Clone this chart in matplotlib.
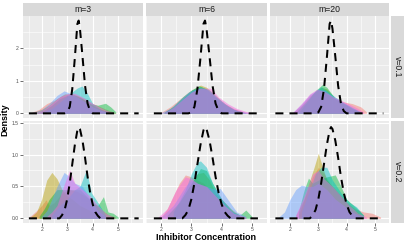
import matplotlib
matplotlib.use("Agg")
import matplotlib.pyplot as plt
import numpy as np

plt.rcParams["font.family"] = ["Liberation Sans", "DejaVu Sans"]

COLS = ["m=3", "m=6", "m=20"]
ROWS = ["v=0.1", "v=0.2"]
GROUP_COLORS = ["#F8766D", "#B79F00", "#00BA38", "#00BFC4", "#619CFF", "#F564E3"]

# x limits of each column (free x scales)
XLIMS = [(1.27, 5.97), (1.57, 5.47), (1.29, 5.49)]
# y limits of each row (free y scales)
YLIMS = [(-0.143, 2.99), (-0.073, 1.525)]
YTICKS = [[0, 1, 2], [0.0, 0.5, 1.0, 1.5]]
YTICKLABELS = [["0", "1", "2"], ["0.0", "0.5", "1.0", "1.5"]]
YMINOR = [[0.5, 1.5, 2.5], [0.25, 0.75, 1.25]]
XTICKS = [2, 3, 4, 5]

# dashed reference density
DASH_X_TOP = [2.9, 3.0, 3.1, 3.2, 3.3, 3.4, 3.45, 3.5, 3.6, 3.7, 3.8, 3.9, 4.0]
DASH_Y_TOP = [0.0, 0.03, 0.2, 0.75, 1.7, 2.75, 2.85, 2.6, 1.75, 0.85, 0.3, 0.07, 0.0]
DASH_X_BOT = [2.7, 2.8, 2.9, 3.0, 3.1, 3.2, 3.3, 3.4, 3.45, 3.5, 3.6, 3.7, 3.8,
              3.9, 4.0, 4.1, 4.2, 4.3]
DASH_Y_BOT = [0.0, 0.05, 0.13, 0.3, 0.55, 0.85, 1.15, 1.38, 1.43, 1.4, 1.22,
              0.95, 0.65, 0.4, 0.22, 0.1, 0.04, 0.0]
DASH_START = [1.5, 1.76, 1.48]
DASH_END = [5.8, 5.2, 5.3]

# simulated densities per panel: color index -> (x, y) points
V01_M3 = {
    0: ([1.6, 1.9, 2.2, 2.5, 2.8, 3.1, 3.4, 3.7, 4.0, 4.3, 4.6, 4.9],
        [0.03, 0.12, 0.3, 0.4, 0.55, 0.6, 0.55, 0.45, 0.3, 0.2, 0.1, 0.02]),
    1: ([1.7, 2.0, 2.3, 2.6, 2.9, 3.2, 3.5, 3.8, 4.1, 4.4, 4.7],
        [0.03, 0.12, 0.25, 0.45, 0.6, 0.6, 0.5, 0.35, 0.2, 0.1, 0.03]),
    2: ([1.8, 2.1, 2.4, 2.7, 3.0, 3.3, 3.6, 3.9, 4.2, 4.5, 4.7, 4.9],
        [0.02, 0.1, 0.25, 0.45, 0.55, 0.55, 0.45, 0.3, 0.25, 0.31, 0.2, 0.05]),
    3: ([2.0, 2.4, 2.8, 3.1, 3.4, 3.58, 3.8, 4.0, 4.3, 4.6],
        [0.02, 0.15, 0.4, 0.6, 0.78, 0.84, 0.6, 0.3, 0.12, 0.04]),
    4: ([1.6, 2.0, 2.3, 2.6, 2.88, 3.1, 3.4, 3.7, 4.0, 4.3, 4.6],
        [0.02, 0.12, 0.3, 0.55, 0.69, 0.62, 0.5, 0.35, 0.2, 0.1, 0.03]),
    5: ([1.8, 2.1, 2.4, 2.7, 3.0, 3.3, 3.6, 3.9, 4.2, 4.5, 4.8],
        [0.02, 0.12, 0.3, 0.5, 0.6, 0.62, 0.5, 0.35, 0.22, 0.1, 0.02]),
}
V01_M6 = {
    0: ([2.0, 2.3, 2.6, 2.9, 3.2, 3.5, 3.8, 4.1, 4.4, 4.7, 5.0],
        [0.03, 0.2, 0.42, 0.65, 0.8, 0.75, 0.5, 0.3, 0.15, 0.05, 0.01]),
    1: ([2.1, 2.4, 2.7, 3.0, 3.3, 3.5, 3.8, 4.1, 4.4, 4.7],
        [0.03, 0.2, 0.45, 0.7, 0.87, 0.8, 0.55, 0.3, 0.12, 0.04]),
    2: ([2.1, 2.4, 2.7, 3.0, 3.25, 3.5, 3.8, 4.1, 4.4, 4.7],
        [0.03, 0.22, 0.5, 0.72, 0.85, 0.75, 0.5, 0.28, 0.12, 0.04]),
    3: ([2.1, 2.4, 2.7, 3.0, 3.3, 3.6, 3.9, 4.2, 4.5, 4.8],
        [0.02, 0.18, 0.45, 0.7, 0.82, 0.72, 0.45, 0.22, 0.08, 0.02]),
    4: ([2.0, 2.3, 2.6, 2.9, 3.2, 3.5, 3.8, 4.1, 4.4, 4.7, 5.0],
        [0.02, 0.15, 0.4, 0.65, 0.78, 0.75, 0.52, 0.3, 0.13, 0.05, 0.01]),
    5: ([2.1, 2.4, 2.7, 3.0, 3.3, 3.65, 3.9, 4.2, 4.5, 4.8, 5.05],
        [0.02, 0.18, 0.42, 0.65, 0.78, 0.77, 0.5, 0.3, 0.15, 0.06, 0.01]),
}
V01_M20 = {
    0: ([2.1, 2.4, 2.7, 3.0, 3.3, 3.6, 3.9, 4.2, 4.5, 4.7],
        [0.02, 0.25, 0.55, 0.72, 0.6, 0.45, 0.35, 0.3, 0.2, 0.05]),
    1: ([2.2, 2.5, 2.8, 3.1, 3.3, 3.6, 3.9, 4.2, 4.5],
        [0.02, 0.3, 0.6, 0.8, 0.75, 0.45, 0.3, 0.15, 0.04]),
    2: ([2.3, 2.6, 2.9, 3.15, 3.3, 3.6, 3.9, 4.2, 4.5],
        [0.03, 0.35, 0.7, 0.89, 0.8, 0.45, 0.3, 0.15, 0.03]),
    3: ([2.2, 2.5, 2.8, 3.1, 3.3, 3.6, 3.9, 4.2, 4.5],
        [0.03, 0.3, 0.6, 0.82, 0.7, 0.5, 0.32, 0.18, 0.05]),
    4: ([2.1, 2.4, 2.7, 3.0, 3.25, 3.55, 3.85, 4.15, 4.45],
        [0.03, 0.28, 0.58, 0.75, 0.7, 0.5, 0.35, 0.2, 0.06]),
    5: ([2.1, 2.4, 2.7, 2.95, 3.2, 3.5, 3.8, 4.1, 4.4, 4.6],
        [0.03, 0.3, 0.6, 0.74, 0.68, 0.52, 0.4, 0.28, 0.15, 0.04]),
}
V02_M3 = {
    0: ([1.5, 1.6, 1.8, 2.0, 2.17, 2.3, 2.5, 2.8, 3.1, 3.4, 3.7, 4.0, 4.3, 4.6, 4.9],
        [0.02, 0.05, 0.12, 0.2, 0.29, 0.2, 0.25, 0.4, 0.45, 0.42, 0.35, 0.25, 0.15, 0.06, 0.02]),
    1: ([1.6, 1.8, 2.0, 2.2, 2.4, 2.6, 2.8, 3.0, 3.2, 3.5, 4.0, 4.5],
        [0.03, 0.1, 0.3, 0.6, 0.72, 0.62, 0.45, 0.35, 0.3, 0.2, 0.1, 0.03]),
    2: ([1.9, 2.1, 2.3, 2.6, 3.0, 3.5, 4.0, 4.2, 4.42, 4.6, 4.8, 5.0],
        [0.03, 0.15, 0.3, 0.45, 0.45, 0.45, 0.25, 0.2, 0.34, 0.1, 0.08, 0.02]),
    3: ([2.4, 2.7, 3.0, 3.3, 3.5, 3.75, 3.95, 4.2, 4.5],
        [0.05, 0.2, 0.3, 0.45, 0.5, 0.76, 0.4, 0.25, 0.05]),
    4: ([2.0, 2.2, 2.4, 2.6, 2.88, 3.1, 3.3, 3.6, 3.9, 4.2, 4.5],
        [0.03, 0.12, 0.3, 0.5, 0.72, 0.65, 0.55, 0.5, 0.3, 0.12, 0.03]),
    5: ([2.2, 2.4, 2.6, 2.9, 3.1, 3.3, 3.6, 3.9, 4.2, 4.5, 4.8],
        [0.03, 0.1, 0.2, 0.55, 0.76, 0.55, 0.45, 0.35, 0.2, 0.08, 0.02]),
}
V02_M6 = {
    0: ([2.0, 2.2, 2.4, 2.6, 2.8, 3.0, 3.2, 3.4, 3.6, 3.8, 4.0, 4.2, 4.4, 4.6, 4.8],
        [0.02, 0.15, 0.35, 0.55, 0.68, 0.65, 0.6, 0.55, 0.45, 0.35, 0.25, 0.15, 0.08, 0.03, 0.02]),
    1: ([2.4, 2.8, 3.0, 3.2, 3.4, 3.6, 3.8, 4.0, 4.3, 4.6],
        [0.1, 0.4, 0.55, 0.7, 0.72, 0.6, 0.4, 0.3, 0.15, 0.05]),
    2: ([2.2, 2.6, 3.0, 3.3, 3.5, 3.7, 4.0, 4.4, 4.6, 4.8, 5.0],
        [0.05, 0.25, 0.55, 0.78, 0.75, 0.55, 0.3, 0.1, 0.05, 0.13, 0.03]),
    3: ([2.4, 2.8, 3.0, 3.2, 3.3, 3.5, 3.7, 4.0, 4.3, 4.6],
        [0.1, 0.45, 0.7, 0.88, 0.9, 0.8, 0.55, 0.3, 0.12, 0.05]),
    4: ([2.0, 2.4, 2.8, 3.0, 3.2, 3.5, 3.8, 3.95, 4.2, 4.5, 4.8],
        [0.02, 0.2, 0.5, 0.6, 0.55, 0.5, 0.45, 0.47, 0.3, 0.1, 0.03]),
    5: ([1.9, 2.2, 2.5, 2.8, 3.0, 3.2, 3.5, 3.8, 4.1, 4.4, 4.8],
        [0.02, 0.15, 0.45, 0.65, 0.62, 0.55, 0.5, 0.35, 0.2, 0.08, 0.02]),
}
V02_M20 = {
    0: ([2.2, 2.5, 2.8, 3.0, 3.2, 3.4, 3.7, 4.0, 4.3, 4.6, 4.9, 5.2],
        [0.05, 0.3, 0.65, 0.8, 0.7, 0.55, 0.4, 0.25, 0.15, 0.1, 0.08, 0.02]),
    1: ([2.3, 2.5, 2.7, 2.85, 3.0, 3.15, 3.3, 3.6, 3.9, 4.2, 4.5],
        [0.05, 0.3, 0.6, 0.8, 1.02, 0.8, 0.6, 0.45, 0.3, 0.15, 0.05]),
    2: ([2.3, 2.5, 2.65, 2.8, 3.0, 3.3, 3.6, 3.8, 4.0, 4.35, 4.6],
        [0.1, 0.45, 0.63, 0.55, 0.6, 0.65, 0.68, 0.5, 0.3, 0.16, 0.05]),
    3: ([2.4, 2.7, 2.9, 3.1, 3.3, 3.5, 3.8, 4.1, 4.35, 4.6],
        [0.1, 0.45, 0.7, 0.8, 0.8, 0.6, 0.4, 0.25, 0.18, 0.05]),
    4: ([1.6, 1.8, 2.0, 2.2, 2.4, 2.6, 2.8, 3.0, 3.3, 3.6, 3.9, 4.2, 4.5],
        [0.02, 0.1, 0.3, 0.45, 0.52, 0.5, 0.5, 0.55, 0.45, 0.3, 0.2, 0.1, 0.03]),
    5: ([2.2, 2.5, 2.8, 3.0, 3.2, 3.5, 3.8, 4.1, 4.4, 4.7],
        [0.05, 0.35, 0.7, 0.75, 0.62, 0.5, 0.35, 0.2, 0.08, 0.02]),
}
PANELS = [[V01_M3, V01_M6, V01_M20], [V02_M3, V02_M6, V02_M20]]

W, H = 407, 244
fig = plt.figure(figsize=(W / 100, H / 100), dpi=100)

# panel boxes in pixels (left, right) and (top, bottom)
COL_PX = [(23, 143), (146, 267), (270, 389)]
ROW_PX = [(16, 118), (121, 223)]


def px_axes(l, r, t, b):
    return fig.add_axes([l / W, 1 - b / H, (r - l) / W, (b - t) / H])


for i in range(2):
    for j in range(3):
        l, r = COL_PX[j]
        t, b = ROW_PX[i]
        ax = px_axes(l, r, t, b)
        ax.set_facecolor("#EBEBEB")
        for s in ax.spines.values():
            s.set_visible(False)
        ax.set_xlim(*XLIMS[j])
        ax.set_ylim(*YLIMS[i])
        ax.set_xticks(XTICKS)
        ax.set_xticks([1.5, 2.5, 3.5, 4.5, 5.5], minor=True)
        ax.set_yticks(YTICKS[i])
        ax.set_yticks(YMINOR[i], minor=True)
        ax.grid(True, which="major", color="white", lw=0.8)
        ax.grid(True, which="minor", color="white", lw=0.4)
        ax.set_axisbelow(True)
        ax.tick_params(which="minor", length=0)
        ax.tick_params(which="major", length=2, width=0.5, color="#333333",
                       labelsize=3.6, labelcolor="#4D4D4D", pad=1)
        if i == 1:
            ax.set_xticklabels([str(v) for v in XTICKS])
        else:
            ax.tick_params(axis="x", length=0, labelbottom=False)
        if j == 0:
            ax.set_yticklabels(YTICKLABELS[i])
        else:
            ax.tick_params(axis="y", length=0, labelleft=False)

        for k, (xs, ys) in PANELS[i][j].items():
            ax.fill_between(xs, 0, ys, color=GROUP_COLORS[k], alpha=0.45, lw=0)

        dx = DASH_X_TOP if i == 0 else DASH_X_BOT
        dy = DASH_Y_TOP if i == 0 else DASH_Y_BOT
        ax.plot([DASH_START[j]] + dx + [DASH_END[j]], [0] + dy + [0],
                color="black", lw=1.45, dashes=(4, 3), zorder=5)

# top strips
for j in range(3):
    l, r = COL_PX[j]
    sax = px_axes(l, r, 3, 16)
    sax.set_facecolor("#D9D9D9")
    sax.set_xticks([]); sax.set_yticks([])
    for s in sax.spines.values():
        s.set_visible(False)
    sax.text(0.5, 0.5, COLS[j], ha="center", va="center", fontsize=6.2,
             color="#1A1A1A", transform=sax.transAxes)

# right strips
for i in range(2):
    t, b = ROW_PX[i]
    sax = px_axes(391, 404, t, b)
    sax.set_facecolor("#D9D9D9")
    sax.set_xticks([]); sax.set_yticks([])
    for s in sax.spines.values():
        s.set_visible(False)
    sax.text(0.5, 0.5, ROWS[i], ha="center", va="center", fontsize=6.2,
             color="#1A1A1A", rotation=-90, transform=sax.transAxes)

fig.text(206 / W, 1 - 237 / H, "Inhibitor Concentration", ha="center",
         va="center", fontsize=6.5, fontweight="bold")
fig.text(5 / W, 1 - 120 / H, "Density", ha="center", va="center",
         fontsize=6.5, fontweight="bold", rotation=90)

fig.savefig("out.png", dpi=100)
